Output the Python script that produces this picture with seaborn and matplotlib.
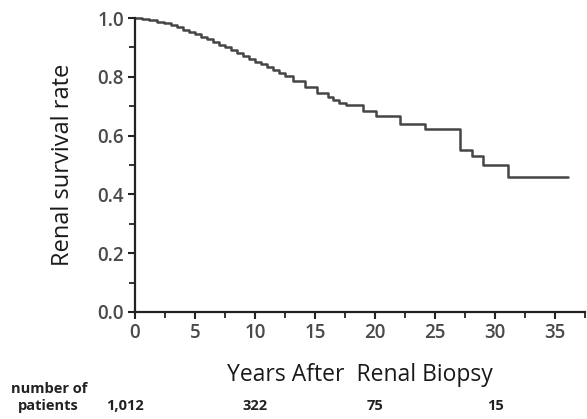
import matplotlib
matplotlib.use('Agg')
import matplotlib.pyplot as plt
import matplotlib.transforms as mtransforms
from matplotlib.ticker import MultipleLocator
import pandas as pd
import seaborn as sns

# -----------------------------------------------------------------------------
# Data
# -----------------------------------------------------------------------------
years = [0, 0.6, 1.2, 1.8, 2.4, 3.0, 3.5, 4.0, 4.5, 5.0, 5.5, 6.0, 6.5, 7.0,
         7.5, 8.0, 8.5, 9.0, 9.5, 10.0, 10.5, 11.0, 11.5, 12.0, 12.5, 13.2,
         14.2, 15.2, 16.1, 16.5, 17.0, 17.6, 19.0, 20.1, 22.1, 24.2, 27.1,
         28.1, 29.0, 31.1, 36.1]
survival = [1.0, 0.997, 0.993, 0.988, 0.982, 0.975, 0.968, 0.96, 0.952, 0.944,
            0.936, 0.927, 0.918, 0.909, 0.9, 0.891, 0.882, 0.872, 0.862, 0.852,
            0.842, 0.832, 0.822, 0.812, 0.802, 0.785, 0.765, 0.745, 0.73, 0.72,
            0.712, 0.703, 0.683, 0.665, 0.64, 0.622, 0.55, 0.53, 0.50, 0.46, 0.46]

risk_years = [-0.8, 10, 20, 30]
risk_labels = ['1,012', '322', '75', '15']

df = pd.DataFrame({'years': years, 'survival': survival})

# -----------------------------------------------------------------------------
# Plot
# -----------------------------------------------------------------------------
sns.set_style('ticks')
plt.rcParams['font.family'] = ['Open Sans', 'DejaVu Sans']

fig = plt.figure(figsize=(5.87, 4.19), dpi=100)
ax = fig.add_axes([0.230, 0.2554, 0.7666, 0.7016])

sns.lineplot(data=df, x='years', y='survival', ax=ax, drawstyle='steps-post',
             color='#454545', linewidth=1.8, clip_on=False)

ax.set_xlim(0, 37.5)
ax.set_ylim(0, 1.0)
ax.xaxis.set_major_locator(MultipleLocator(5))
ax.xaxis.set_minor_locator(MultipleLocator(2.5))
ax.yaxis.set_major_locator(MultipleLocator(0.2))
ax.yaxis.set_minor_locator(MultipleLocator(0.1))
ax.yaxis.set_major_formatter(matplotlib.ticker.FormatStrFormatter('%.1f'))

for s in ['top', 'right']:
    ax.spines[s].set_visible(False)
for s in ['left', 'bottom']:
    ax.spines[s].set_linewidth(1.6)
    ax.spines[s].set_color('#222222')

ax.tick_params(which='major', length=5, width=1.5, color='#222222',
               labelsize=13.5, labelcolor='#4a4a4a', pad=3)
ax.tick_params(which='minor', length=4, width=1.3, color='#222222')
for lab in ax.get_xticklabels() + ax.get_yticklabels():
    lab.set_fontweight('semibold')

ax.set_xlabel('Years After  Renal Biopsy', fontsize=16.5, color='#1a1a1a', labelpad=14)
ax.set_ylabel('Renal survival rate', fontsize=17, color='#1a1a1a', labelpad=16)

# number at risk row
trans = mtransforms.blended_transform_factory(ax.transData, fig.transFigure)
for x, lab in zip(risk_years, risk_labels):
    ax.text(x, 0.030, lab, transform=trans, ha='center', va='center',
            fontsize=10.5, fontweight='bold', color='#222222', clip_on=False)
fig.text(0.083, 0.052, 'number of\npatients', ha='center', va='center',
         fontsize=10.5, fontweight='bold', color='#222222', linespacing=1.25)

plt.savefig('out.png', dpi=100)
